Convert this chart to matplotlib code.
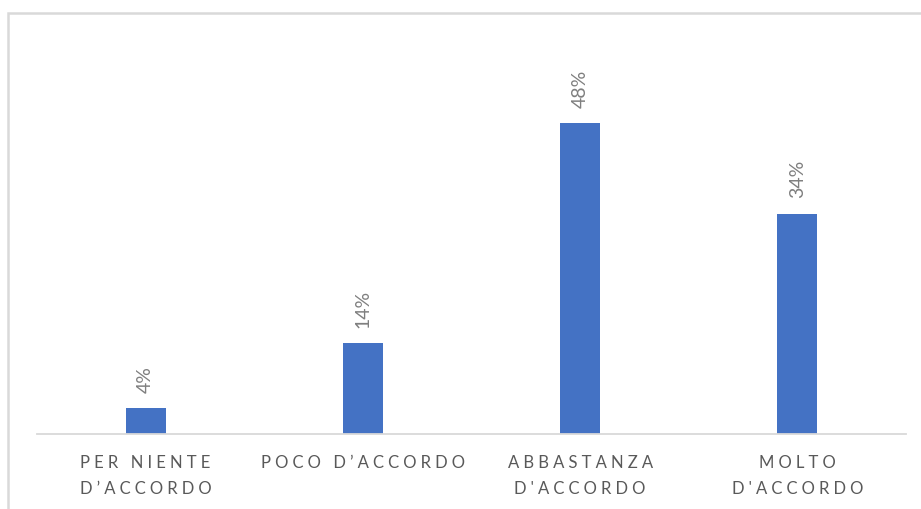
import matplotlib.pyplot as plt
from matplotlib.patches import Rectangle

categories = ['PER NIENTE\nD\u2019ACCORDO', 'POCO D\u2019ACCORDO',
              'ABBASTANZA\nD\'ACCORDO', 'MOLTO\nD\'ACCORDO']
values = [4, 14, 48, 34]

BAR = '#4472C4'
GREY = '#595959'
LIGHT = '#7f7f7f'
FONT = ['Lato', 'DejaVu Sans']
SP = '\u2005'  # spacing between letters


def spaced(s):
    return '\n'.join(SP.join(line) for line in s.split('\n'))


fig = plt.figure(figsize=(9.21, 5.09), dpi=100)

# light frame round the chart
fig.patches.append(Rectangle((7.5 / 921, -0.1), 1.2, 1 - 13 / 509 + 0.1,
                             transform=fig.transFigure, fill=False,
                             edgecolor='#d9d9d9', linewidth=1.8))

ax = fig.add_axes([37 / 921, 75 / 509, 869 / 921, 389 / 509])
x = range(len(values))
bars = ax.bar(x, values, width=0.184, color=BAR)

for b, v in zip(bars, values):
    ax.annotate(f'{v}%', (b.get_x() + b.get_width() / 2, v),
                xytext=(0, 11), textcoords='offset points',
                rotation=90, ha='center', va='bottom',
                fontsize=14, color=LIGHT, family=FONT)

ax.set_xlim(-0.5, 3.5)
ax.set_ylim(0, 60)
ax.set_xticks(list(x))
ax.set_xticklabels([spaced(c) for c in categories], fontsize=12,
                   color=GREY, linespacing=1.8, va='top', family=FONT)
ax.tick_params(axis='x', length=0, pad=15)
ax.set_yticks([])
for s in ['top', 'left', 'right']:
    ax.spines[s].set_visible(False)
ax.spines['bottom'].set_color('#d9d9d9')
ax.spines['bottom'].set_linewidth(1.3)

fig.savefig('out.png', dpi=100)
